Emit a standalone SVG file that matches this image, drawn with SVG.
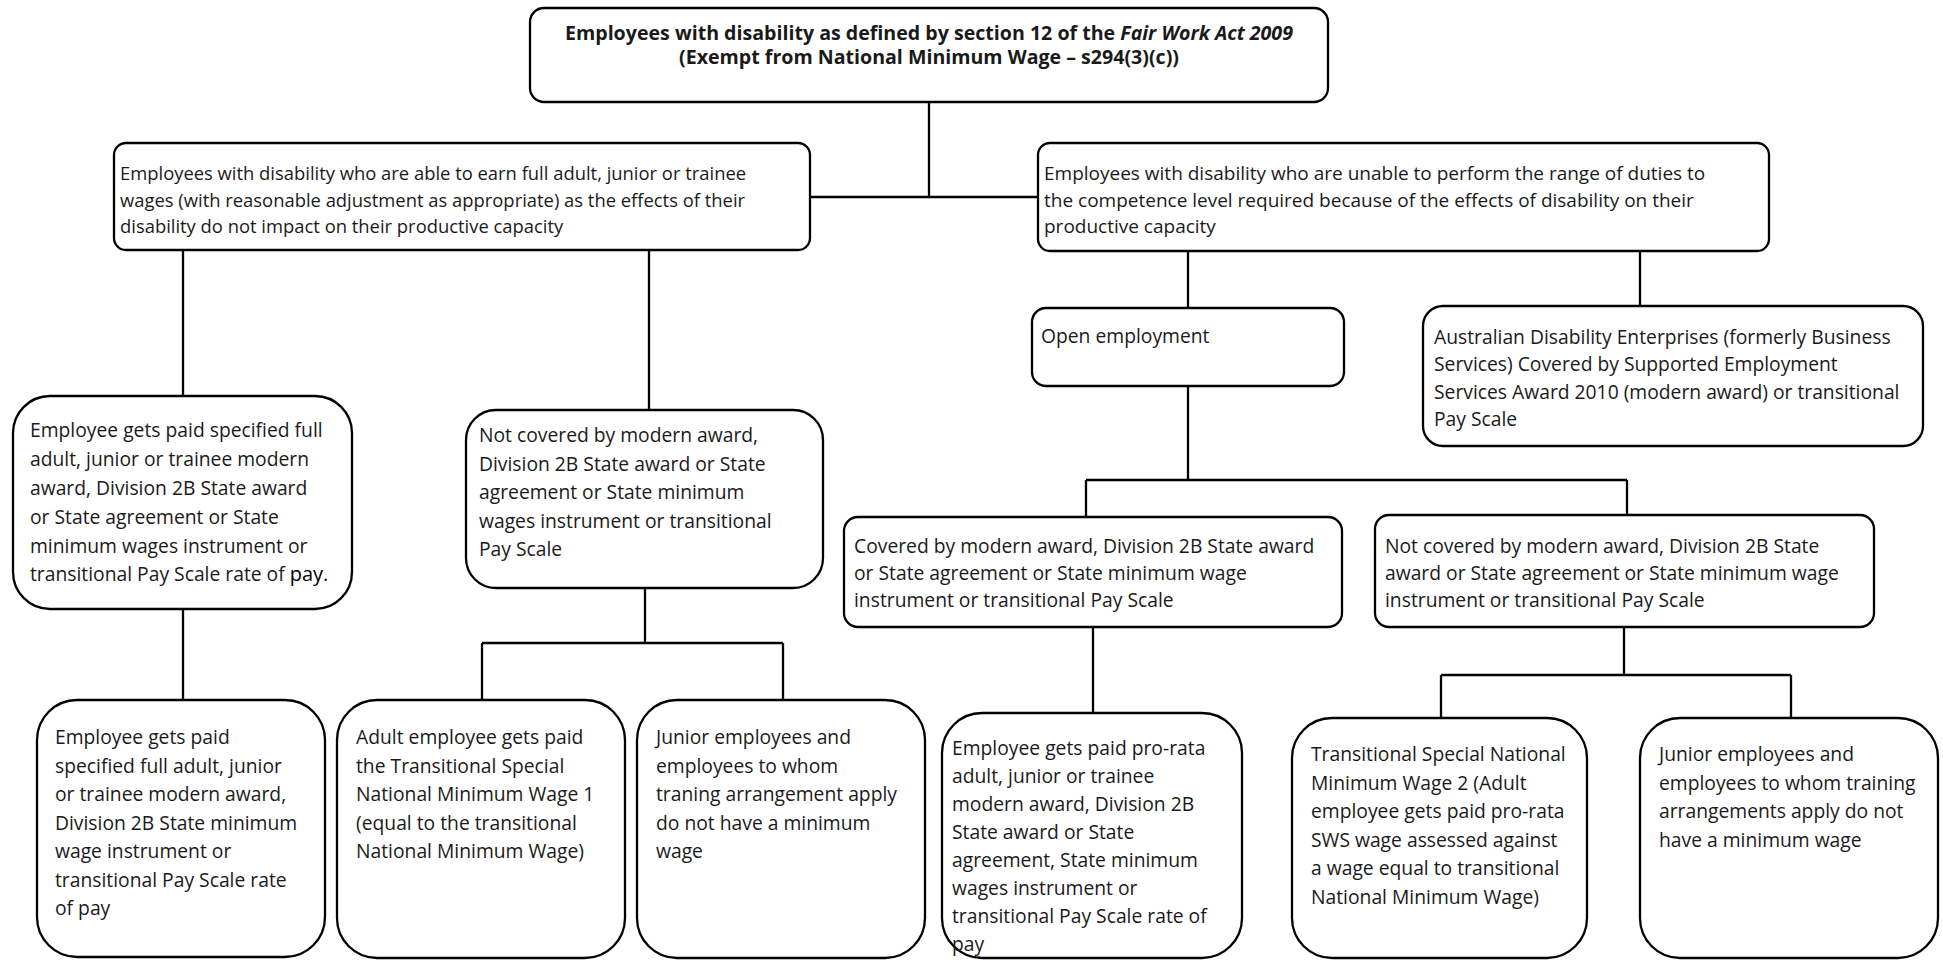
<svg xmlns="http://www.w3.org/2000/svg" width="1943" height="960" viewBox="0 0 1943 960">
<style>
.box{fill:#fff;stroke:#000;stroke-width:2.3}
.t{font-family:"Open Sans","Noto Sans",sans-serif;font-size:19.3px;fill:#1a1a1a}
.s{font-size:18.4px}
.m{font-size:19px}
.b{font-weight:bold;text-anchor:middle;font-size:19.6px}
.c line{stroke:#000;stroke-width:2.3}
</style>
<rect width="1943" height="960" fill="#fff"/>
<g class="c" id="connectors">
<line x1="929" y1="102" x2="929" y2="197"/>
<line x1="810" y1="197" x2="1038" y2="197"/>
<line x1="183" y1="250" x2="183" y2="396"/>
<line x1="649" y1="250" x2="649" y2="410"/>
<line x1="1188" y1="251" x2="1188" y2="308"/>
<line x1="1640" y1="251" x2="1640" y2="306"/>
<line x1="183" y1="609" x2="183" y2="700"/>
<line x1="645" y1="588" x2="645" y2="643"/>
<line x1="482" y1="643" x2="783" y2="643"/>
<line x1="482" y1="643" x2="482" y2="700"/>
<line x1="783" y1="643" x2="783" y2="700"/>
<line x1="1188" y1="386" x2="1188" y2="480"/>
<line x1="1086" y1="480" x2="1627" y2="480"/>
<line x1="1086" y1="480" x2="1086" y2="517"/>
<line x1="1627" y1="480" x2="1627" y2="515"/>
<line x1="1093" y1="627" x2="1093" y2="713"/>
<line x1="1624" y1="627" x2="1624" y2="675"/>
<line x1="1441" y1="675" x2="1791" y2="675"/>
<line x1="1441" y1="675" x2="1441" y2="718"/>
<line x1="1791" y1="675" x2="1791" y2="718"/>
</g>
<g id="top">
<rect class="box" x="530" y="8" width="798" height="94" rx="14"/>
<text class="t b" x="929" y="40">Employees with disability as defined by section 12 of the <tspan font-style="italic">Fair Work Act 2009</tspan></text>
<text class="t b" x="929" y="64">(Exempt from National Minimum Wage – s294(3)(c))</text>
</g>
<g id="able">
<rect class="box" x="114" y="143" width="696" height="107" rx="12"/>
<text class="t s" x="120" y="180">Employees with disability who are able to earn full adult, junior or trainee</text>
<text class="t s" x="120" y="207">wages (with reasonable adjustment as appropriate) as the effects of their</text>
<text class="t s" x="120" y="233">disability do not impact on their productive capacity</text>
</g>
<g id="unable">
<rect class="box" x="1038" y="143" width="731" height="108" rx="12"/>
<text class="t m" x="1044" y="180">Employees with disability who are unable to perform the range of duties to</text>
<text class="t m" x="1044" y="207">the competence level required because of the effects of disability on their</text>
<text class="t m" x="1044" y="233">productive capacity</text>
</g>
<g id="paid-full">
<rect class="box" x="13" y="396" width="339" height="213" rx="37"/>
<text class="t" x="30" y="437">Employee gets paid specified full</text>
<text class="t" x="30" y="466">adult, junior or trainee modern</text>
<text class="t" x="30" y="495">award, Division 2B State award</text>
<text class="t" x="30" y="524">or State agreement or State</text>
<text class="t" x="30" y="553">minimum wages instrument or</text>
<text class="t" x="30" y="581">transitional Pay Scale rate of <tspan fill="#000" font-size="20px">pay.</tspan></text>
</g>
<g id="not-covered-left">
<rect class="box" x="466" y="410" width="357" height="178" rx="30"/>
<text class="t" x="479" y="442">Not covered by modern award,</text>
<text class="t" x="479" y="470.5">Division 2B State award or State</text>
<text class="t" x="479" y="499">agreement or State minimum</text>
<text class="t" x="479" y="527.5">wages instrument or transitional</text>
<text class="t" x="479" y="556">Pay Scale</text>
</g>
<g id="open">
<rect class="box" x="1032" y="308" width="312" height="78" rx="14"/>
<text class="t" x="1041" y="343">Open employment</text>
</g>
<g id="ade">
<rect class="box" x="1423" y="306" width="500" height="140" rx="20"/>
<text class="t" x="1434" y="344">Australian Disability Enterprises (formerly Business</text>
<text class="t" x="1434" y="371">Services) Covered by Supported Employment</text>
<text class="t" x="1434" y="398.5">Services Award 2010 (modern award) or transitional</text>
<text class="t" x="1434" y="426">Pay Scale</text>
</g>
<g id="covered">
<rect class="box" x="844" y="517" width="498" height="110" rx="14"/>
<text class="t" x="854" y="553">Covered by modern award, Division 2B State award</text>
<text class="t" x="854" y="580">or State agreement or State minimum wage</text>
<text class="t" x="854" y="607">instrument or transitional Pay Scale</text>
</g>
<g id="not-covered-right">
<rect class="box" x="1375" y="515" width="499" height="112" rx="14"/>
<text class="t" x="1385" y="553">Not covered by modern award, Division 2B State</text>
<text class="t" x="1385" y="580">award or State agreement or State minimum wage</text>
<text class="t" x="1385" y="607">instrument or transitional Pay Scale</text>
</g>
<g id="a">
<rect class="box" x="37" y="700" width="288" height="257" rx="40"/>
<text class="t" x="55" y="744">Employee gets paid</text>
<text class="t" x="55" y="772.5">specified full adult, junior</text>
<text class="t" x="55" y="801">or trainee modern award,</text>
<text class="t" x="55" y="829.5">Division 2B State minimum</text>
<text class="t" x="55" y="858">wage instrument or</text>
<text class="t" x="55" y="886.5">transitional Pay Scale rate</text>
<text class="t" x="55" y="915">of pay</text>
</g>
<g id="b">
<rect class="box" x="337" y="700" width="288" height="258" rx="40"/>
<text class="t" x="356" y="744">Adult employee gets paid</text>
<text class="t" x="356" y="772.5">the Transitional Special</text>
<text class="t" x="356" y="801">National Minimum Wage 1</text>
<text class="t" x="356" y="829.5">(equal to the transitional</text>
<text class="t" x="356" y="858">National Minimum Wage)</text>
</g>
<g id="c">
<rect class="box" x="637" y="700" width="288" height="258" rx="40"/>
<text class="t" x="656" y="744">Junior employees and</text>
<text class="t" x="656" y="772.5">employees to whom</text>
<text class="t" x="656" y="801">traning arrangement apply</text>
<text class="t" x="656" y="829.5">do not have a minimum</text>
<text class="t" x="656" y="858">wage</text>
</g>
<g id="d">
<rect class="box" x="942" y="713" width="300" height="245" rx="40"/>
<text class="t" x="952" y="755">Employee gets paid pro-rata</text>
<text class="t" x="952" y="783">adult, junior or trainee</text>
<text class="t" x="952" y="811">modern award, Division 2B</text>
<text class="t" x="952" y="839">State award or State</text>
<text class="t" x="952" y="867">agreement, State minimum</text>
<text class="t" x="952" y="895">wages instrument or</text>
<text class="t" x="952" y="923">transitional Pay Scale rate of</text>
<text class="t" x="952" y="951">pay</text>
</g>
<g id="e">
<rect class="box" x="1292" y="718" width="295" height="240" rx="40"/>
<text class="t" x="1311" y="761">Transitional Special National</text>
<text class="t" x="1311" y="789.5">Minimum Wage 2 (Adult</text>
<text class="t" x="1311" y="818">employee gets paid pro-rata</text>
<text class="t" x="1311" y="846.5">SWS wage assessed against</text>
<text class="t" x="1311" y="875">a wage equal to transitional</text>
<text class="t" x="1311" y="903.5">National Minimum Wage)</text>
</g>
<g id="f">
<rect class="box" x="1640" y="718" width="298" height="240" rx="40"/>
<text class="t" x="1659" y="761">Junior employees and</text>
<text class="t" x="1659" y="789.5">employees to whom training</text>
<text class="t" x="1659" y="818">arrangements apply do not</text>
<text class="t" x="1659" y="846.5">have a minimum wage</text>
</g>
</svg>
